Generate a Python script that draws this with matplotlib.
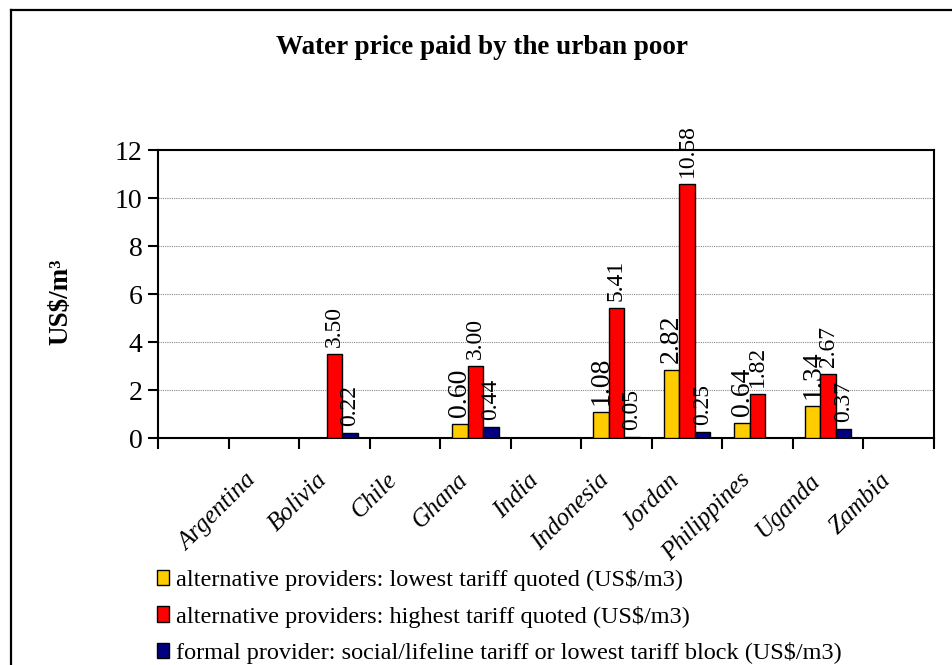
import numpy as np
import matplotlib
matplotlib.use("Agg")
import matplotlib.pyplot as plt
from matplotlib.patches import Patch
from matplotlib.lines import Line2D
import matplotlib.transforms as mtransforms

countries = ["Argentina", "Bolivia", "Chile", "Ghana", "India", "Indonesia",
             "Jordan", "Philippines", "Uganda", "Zambia"]
lowest_alt = [np.nan, np.nan, np.nan, 0.60, np.nan, 1.08, 2.82, 0.64, 1.34, np.nan]
highest_alt = [np.nan, 3.50, np.nan, 3.00, np.nan, 5.41, 10.58, 1.82, 2.67, np.nan]
formal_low = [np.nan, 0.22, np.nan, 0.44, np.nan, 0.05, 0.25, np.nan, 0.37, np.nan]
series_names = ["alternative providers: lowest tariff quoted (US$/m3)",
                "alternative providers: highest tariff quoted (US$/m3)",
                "formal provider: social/lifeline tariff or lowest tariff block (US$/m3)"]
series_colors = ["#FFCC00", "#FF0000", "#000080"]
y_ticks = [0, 2, 4, 6, 8, 10, 12]

SERIF = ["Liberation Serif", "DejaVu Serif"]
plt.rcParams["font.family"] = SERIF

fig = plt.figure(figsize=(9.53, 6.65), dpi=100)
ax = fig.add_axes([158/953, 1-438/665, (934-158)/953, (438-150)/665])

x = np.arange(len(countries))
w = 0.22
label_sizes = [20, 17, 17]
for i, (vals, col, lsz) in enumerate(zip([lowest_alt, highest_alt, formal_low],
                                         series_colors, label_sizes)):
    xs = x + (i - 1) * w
    v = np.array(vals, dtype=float)
    ax.bar(xs, v, width=w, color=col, edgecolor="black", linewidth=1.0, zorder=3)
    for xi, vi in zip(xs, v):
        if np.isnan(vi):
            continue
        ax.annotate(f"{vi:.2f}", (xi, vi), xytext=(0, 5), textcoords="offset points",
                    rotation=90, ha="center", va="bottom", fontsize=lsz,
                    family=SERIF, zorder=4, annotation_clip=False)

ax.set_xlim(-1.5, len(countries) - 0.5)
ax.set_ylim(0, 12)
ax.set_yticks(y_ticks)
ax.set_yticklabels([str(t) for t in y_ticks], fontsize=20)
ax.tick_params(axis="y", direction="out", length=7, width=1.5, pad=4)

# x: boundary ticks (major), labels at centers (minor)
ax.set_xticks(np.arange(-1.5, len(countries) - 0.49, 1.0))
ax.set_xticklabels([])
ax.tick_params(axis="x", which="major", direction="out", length=8, width=1.5)
ax.set_xticks(x, minor=True)
ax.set_xticklabels(countries, minor=True, rotation=45, ha="right", va="center",
                   rotation_mode="anchor", fontsize=18, style="italic")
ax.tick_params(axis="x", which="minor", length=0, pad=28)
offset = mtransforms.ScaledTranslation(-11/100, 0, fig.dpi_scale_trans)
for lab in ax.get_xticklabels(minor=True):
    lab.set_transform(lab.get_transform() + offset)

ax.yaxis.grid(True, linestyle=(0, (1, 1)), color="#888888", linewidth=0.8, zorder=0)
ax.set_axisbelow(True)
for sp in ax.spines.values():
    sp.set_linewidth(1.5)
    sp.set_color("black")

fig.text(0.506, 1-48/665, "Water price paid by the urban poor", ha="center", va="center",
         fontsize=19.5, fontweight="bold")
fig.text(0.064, 1-302/665, "US$/m\u00b3", rotation=90, ha="center", va="center",
         fontsize=19.5, fontweight="bold")

handles = [Patch(facecolor=c, edgecolor="black", linewidth=1.0) for c in series_colors]
fig.legend(handles, series_names, loc="upper left", bbox_to_anchor=(157/953, 1-569/665),
           frameon=False, fontsize=17.5, handlelength=0.5, handleheight=0.6,
           handletextpad=0.3, labelspacing=0.6, borderaxespad=0, borderpad=0)

# outer frame (extends past right and bottom edges)
fx0 = 11/953
fy1 = 1 - 10/665
fig.add_artist(Line2D([fx0, fx0], [-0.05, fy1], color="black", linewidth=1.6,
                      transform=fig.transFigure))
fig.add_artist(Line2D([fx0, 1.05], [fy1, fy1], color="black", linewidth=1.6,
                      transform=fig.transFigure))

fig.savefig("out.png", dpi=100)
